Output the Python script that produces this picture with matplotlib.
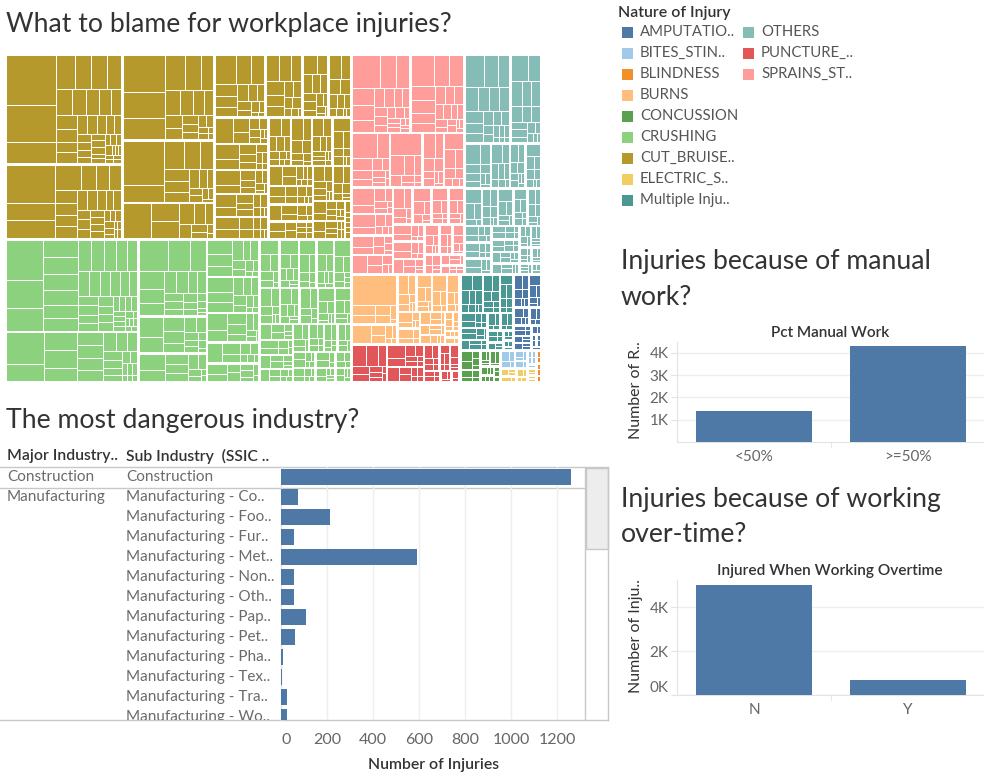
import matplotlib
matplotlib.use("Agg")
import matplotlib.pyplot as plt
from matplotlib.patches import Rectangle
from matplotlib.collections import PatchCollection
from matplotlib.ticker import FuncFormatter

plt.rcParams['font.family'] = ['Lato', 'DejaVu Sans']

W, H = 984, 784
BAR = "#4e79a7"
DARK = "#333333"
GREY = "#6b6b6b"

# ---------------- data ----------------
categories = ["AMPUTATIO..", "BITES_STIN..", "BLINDNESS", "BURNS", "CONCUSSION",
              "CRUSHING", "CUT_BRUISE..", "ELECTRIC_S..", "Multiple Inju..",
              "OTHERS", "PUNCTURE_..", "SPRAINS_ST.."]
cat_colors = ["#4e79a7", "#a0cbe8", "#f28e2b", "#ffbe7d", "#59a14f", "#8cd17d",
              "#b6992d", "#f1ce63", "#499894", "#86bcb6", "#e15759", "#ff9d9a"]

amputation_blocks = [[4, 3, 3, 2, 2, 1, 1], [4, 3, 2, 2, 1, 1], [3, 2, 2, 1, 1], [3, 2, 1, 1],
                     [2, 2, 1, 1], [2, 1, 1], [2, 1, 1], [2, 1], [1, 1], [1, 1], [1]]
bites_blocks = [[3, 2, 2, 1], [2, 1, 1], [2, 1], [1, 1], [1, 1], [1]]
blindness_blocks = [[1, 1], [1, 1], [1]]
burns_blocks = [[44, 8, 6, 5, 4, 3, 1], [12, 5, 4, 3, 2, 1, 1], [7, 5, 4, 3, 2, 1, 1],
                [6, 4, 3, 2, 2, 1], [8, 4, 3, 2, 1], [7, 3, 2, 2, 1], [5, 3, 2, 1, 1],
                [5, 3, 2, 1], [4, 3, 2, 1], [3, 2, 2, 1], [3, 2, 1, 1], [2, 2, 1],
                [2, 1, 1], [1, 1, 1], [2, 1]]
concussion_blocks = [[4, 3, 2, 2, 1], [3, 2, 2, 1], [2, 1, 1, 1], [2, 2, 1], [2, 1, 1],
                     [1, 1, 1], [1, 1], [1]]
crushing_blocks = [
    [48, 34, 27, 19, 19, 18, 16, 15, 14, 13, 12, 12, 11, 10, 9, 9, 8, 8, 7, 7, 6, 6, 5, 5, 5,
     4, 4, 4, 3, 3, 3, 3, 2, 2, 2, 2, 2, 1, 1, 1, 1, 1, 1],
    [40, 21, 19, 19, 14, 11, 11, 10, 9, 8, 7, 6, 6, 5, 4, 4, 3, 3, 2, 2, 2, 1, 1, 1],
    [30, 22, 16, 14, 12, 10, 9, 8, 7, 6, 5, 5, 4, 4, 3, 3, 2, 2, 1, 1],
    [16, 12, 10, 8, 7, 6, 5, 4, 3, 3, 2, 2, 1],
    [14, 10, 8, 7, 6, 5, 4, 3, 2, 1, 1],
    [13, 9, 8, 6, 5, 4, 4, 3, 3, 2, 1, 1],
    [12, 10, 8, 7, 5, 5, 4, 3, 3, 2, 1, 1],
    [11, 8, 7, 6, 5, 4, 3, 2, 2, 1],
    [10, 7, 5, 4, 3, 2, 2, 1], [9, 6, 5, 4, 3, 2, 1],
    [7, 5, 4, 4, 3, 3, 2, 2, 1], [9, 5, 4, 3, 3, 2, 2, 1, 1],
    [8, 6, 4, 3, 2, 2, 1], [8, 5, 4, 3, 2, 2, 1, 1], [9, 5, 4, 3, 2, 1, 1, 1],
    [7, 5, 4, 3, 2, 1, 1], [6, 4, 3, 3, 2, 2, 1, 1], [7, 5, 3, 3, 2, 1],
    [7, 4, 3, 2, 1, 1, 1], [6, 4, 3, 2, 2, 1], [6, 4, 3, 2, 1, 1], [5, 4, 3, 2, 1, 1],
    [5, 3, 3, 2, 1, 1], [4, 3, 2, 2, 1, 1, 1], [5, 3, 3, 2, 1], [4, 3, 2, 2, 1, 1],
    [4, 3, 2, 1, 1, 1], [4, 3, 2, 2, 1], [3, 3, 2, 1, 1, 1], [3, 2, 2, 1, 1, 1],
    [4, 3, 2, 1], [3, 2, 1, 1, 1, 1], [3, 2, 2, 1], [2, 2, 1, 1, 1]]
cut_bruise_blocks = [
    [80, 60, 34, 20, 18, 17, 15, 14, 12, 11, 10, 9, 9, 8, 7, 7, 6, 6, 5, 5, 4, 4, 4, 3, 3, 3,
     3, 3, 2, 2, 2, 2, 2, 2, 1, 1, 1, 1, 1, 1, 1],
    [60, 28, 27, 22, 12, 11, 10, 9, 9, 8, 8, 7, 6, 6, 5, 5, 4, 4, 4, 3, 3, 3, 3, 2, 2, 2, 2, 2,
     1, 1, 1, 1, 1],
    [52, 35, 30, 22, 18, 14, 12, 10, 9, 8, 7, 6, 5, 4, 4, 3, 3, 2, 2, 1, 1],
    [60, 22, 18, 15, 12, 10, 9, 8, 6, 5, 4, 3, 3, 2, 2, 1],
    [33, 17, 15, 10, 8, 6, 5, 4, 3, 2, 1],
    [20, 14, 13, 9, 8, 7, 6, 5, 4, 4, 3, 3, 2, 1, 1],
    [12, 10, 9, 8, 7, 6, 5, 4, 3, 3, 2, 2, 1],
    [9, 7, 6, 5, 5, 4, 4, 3, 3, 2, 2, 1, 1],
    [10, 7, 6, 5, 4, 3, 3, 2, 2, 1, 1], [15, 8, 6, 4, 3, 3, 2, 1, 1, 1],
    [12, 8, 6, 5, 4, 3, 2, 2, 1, 1], [12, 7, 5, 4, 3, 3, 2, 2, 1, 1],
    [9, 6, 5, 4, 4, 3, 3, 2, 1, 1], [10, 7, 6, 4, 3, 3, 2, 1, 1],
    [8, 5, 4, 4, 3, 3, 2, 2, 1, 1, 1], [9, 6, 5, 4, 3, 2, 2, 1],
    [7, 5, 4, 3, 3, 2, 2, 2, 1, 1, 1], [8, 6, 4, 3, 3, 2, 1, 1],
    [9, 5, 4, 3, 2, 2, 1, 1, 1], [6, 4, 4, 3, 3, 2, 2, 1, 1], [7, 5, 4, 3, 2, 2, 1],
    [5, 4, 3, 3, 2, 2, 2, 1, 1, 1], [6, 4, 3, 3, 2, 2, 1, 1], [6, 4, 3, 3, 2, 1, 1],
    [5, 3, 3, 2, 2, 2, 1, 1, 1], [4, 3, 3, 2, 2, 1, 1, 1, 1], [2, 1, 1, 1, 1, 1]]
electric_blocks = [[2, 1, 1], [2, 1], [2, 1], [1, 1], [1, 1], [1], [1]]
multiple_blocks = [[6, 5, 4, 3, 3, 2, 2, 1, 1], [5, 4, 3, 3, 2, 2, 1, 1], [4, 3, 3, 2, 2, 1, 1],
                   [4, 3, 2, 2, 1, 1], [3, 3, 2, 1, 1], [3, 2, 2, 1, 1], [3, 2, 1, 1],
                   [3, 2, 1, 1], [2, 2, 1, 1], [2, 1, 1], [1, 1, 1], [1, 1], [1]]
others_blocks = [
    [20, 14, 12, 10, 9, 8, 8, 7, 6, 5, 5, 4, 4, 3, 3, 2, 2, 2, 1, 1, 1],
    [15, 11, 9, 8, 7, 6, 5, 5, 4, 4, 3, 3, 2, 2, 1, 1],
    [10, 7, 5, 4, 3, 3, 2, 2, 1], [7, 5, 4, 3, 3, 2, 2, 1], [5, 4, 3, 3, 2, 2, 1, 1, 1],
    [6, 4, 3, 3, 2, 2, 1, 1], [8, 5, 4, 2, 1], [5, 4, 3, 3, 2, 1, 1], [6, 4, 3, 2, 2, 1],
    [5, 3, 3, 2, 2, 1, 1], [4, 3, 3, 2, 2, 1, 1], [4, 3, 2, 2, 2, 1], [4, 3, 2, 2, 1, 1],
    [5, 3, 2, 2, 1], [3, 3, 2, 2, 1, 1], [3, 2, 2, 2, 1, 1], [3, 2, 2, 1, 1, 1],
    [3, 2, 2, 1, 1], [2, 2, 2, 1, 1], [2, 2, 1, 1, 1], [2, 1, 1, 1, 1], [2, 1, 1, 1],
    [1, 1, 1, 1], [1, 1, 1]]
puncture_blocks = [[10, 8, 6, 5, 4, 3, 2, 2, 1, 1], [8, 5, 4, 3, 2, 2, 1, 1],
                   [6, 3, 3, 2, 2, 1, 1], [4, 3, 2, 2, 1, 1], [3, 2, 2, 1, 1],
                   [4, 2, 1, 1], [2, 2, 1, 1], [2, 1, 1], [2, 1]]
sprains_blocks = [
    [30, 17, 14, 12, 11, 8, 7, 6, 5, 5, 4, 4, 3, 3, 3, 2, 2, 2, 2, 1, 1, 1, 1],
    [24, 16, 14, 11, 10, 8, 7, 6, 5, 5, 4, 4, 3, 3, 3, 2, 2, 2, 1, 1, 1],
    [20, 10, 8, 6, 5, 4, 3, 3, 2, 2, 1, 1], [22, 9, 7, 5, 4, 3, 2, 2, 1],
    [10, 7, 5, 4, 3, 3, 2, 2, 1], [10, 7, 5, 4, 3, 2, 2, 1], [13, 6, 5, 3, 3, 2, 1, 1],
    [10, 6, 4, 3, 2, 2, 1], [8, 5, 4, 3, 2, 2, 1], [9, 5, 4, 3, 2, 1],
    [8, 5, 3, 3, 2, 1], [8, 5, 4, 3, 2, 1], [7, 4, 3, 2, 2, 1, 1], [6, 4, 3, 2, 2, 1],
    [6, 4, 3, 2, 1, 1], [6, 4, 3, 2, 1, 1], [5, 3, 3, 2, 1, 1], [5, 3, 2, 2, 1, 1],
    [4, 3, 2, 2, 1], [4, 3, 2, 1, 1], [3, 3, 2, 1, 1], [3, 2, 2, 1], [2, 1, 1, 1, 1]]

cat_blocks = [amputation_blocks, bites_blocks, blindness_blocks, burns_blocks,
              concussion_blocks, crushing_blocks, cut_bruise_blocks, electric_blocks,
              multiple_blocks, others_blocks, puncture_blocks, sprains_blocks]

major_industries = ["Construction", "Manufacturing"]
major_rows = [0, 1]
sub_industries = ["Construction", "Manufacturing - Co..", "Manufacturing - Foo..",
                  "Manufacturing - Fur..", "Manufacturing - Met..", "Manufacturing - Non..",
                  "Manufacturing - Oth..", "Manufacturing - Pap..", "Manufacturing - Pet..",
                  "Manufacturing - Pha..", "Manufacturing - Tex..", "Manufacturing - Tra..",
                  "Manufacturing - Wo.."]
sub_injuries = [1260, 72, 215, 55, 590, 58, 58, 108, 62, 8, 4, 27, 27]
injury_ticks = [0, 200, 400, 600, 800, 1000, 1200]

manual_labels = ["<50%", ">=50%"]
manual_counts = [1410, 4280]
overtime_labels = ["N", "Y"]
overtime_counts = [5000, 680]


# ---------------- helpers ----------------
fig = plt.figure(figsize=(W / 100, H / 100), dpi=100)


def px_axes(x0, y0, x1, y1):
    return fig.add_axes([x0 / W, 1 - y1 / H, (x1 - x0) / W, (y1 - y0) / H])


def worst(row, side):
    s = sum(row)
    t = s / side
    r = 0
    for a in row:
        l = a / t
        r = max(r, t / l, l / t)
    return r


def squarify(vals, x, y, w, h, thr=3.1):
    total = float(sum(vals))
    areas = [v * w * h / total for v in vals]
    rects = []
    i = 0
    while i < len(areas):
        if w <= 1e-9 or h <= 1e-9:
            rects.extend([(x, y, 0, 0)] * (len(areas) - i))
            break
        side = min(w, h)
        row = [areas[i]]
        cur = worst(row, side)
        j = i + 1
        while j < len(areas):
            new = worst(row + [areas[j]], side)
            if new <= cur or new <= thr:
                row.append(areas[j])
                cur = new
                j += 1
            else:
                break
        s = sum(row)
        if w >= h:
            cw = s / h
            yy = y
            for a in row:
                rh = a / cw
                rects.append((x, yy, cw, rh))
                yy += rh
            x += cw
            w -= cw
        else:
            rh = s / w
            xx = x
            for a in row:
                cw = a / rh
                rects.append((xx, y, cw, rh))
                xx += cw
            y += rh
            h -= rh
        i = j
    return rects


def inset(r, d):
    x, y, w, h = r
    return (x + d, y + d, max(w - 2 * d, 0), max(h - 2 * d, 0))


# ---------------- background / layout layer ----------------
bg = fig.add_axes([0, 0, 1, 1])
bg.set_xlim(0, W)
bg.set_ylim(H, 0)
bg.axis("off")

title_kw = dict(fontsize=19.2, color=DARK, va="center", ha="left")
bg.text(6, 24, "What to blame for workplace injuries?", **title_kw)
bg.text(6, 420, "The most dangerous industry?", **title_kw)
bg.text(621, 262, "Injuries because of manual", **title_kw)
bg.text(621, 297, "work?", **title_kw)
bg.text(621, 499, "Injuries because of working", **title_kw)
bg.text(621, 535, "over-time?", **title_kw)

# legend
bg.text(618, 13, "Nature of Injury", fontsize=11.4, fontweight="semibold", color=DARK,
        va="center", ha="left")
for k, (name, col) in enumerate(zip(categories, cat_colors)):
    colx = 0 if k < 9 else 1
    row = k if k < 9 else k - 9
    sx = 622 + colx * 121
    cy = 32 + row * 21
    bg.add_patch(Rectangle((sx, cy - 5.5), 11, 11, color=col, lw=0))
    bg.text(sx + 18, cy, name, fontsize=10.7, color="#555555", va="center", ha="left")

# table frame for industry chart
line_c = "#c8c8c8"
bg.plot([0, 608], [467, 467], color=line_c, lw=1)
bg.plot([0, 608], [720, 720], color=line_c, lw=1)
bg.plot([0, 585], [487.5, 487.5], color=line_c, lw=1)
bg.plot([585, 585], [467, 720], color=line_c, lw=1)
bg.plot([608, 608], [467, 720], color=line_c, lw=1)
bg.add_patch(Rectangle((586, 467.5), 21.5, 81, facecolor="#ededed", edgecolor=line_c, lw=1))
hdr_kw = dict(fontsize=11.3, fontweight="semibold", color=DARK, va="center", ha="left")
bg.text(7, 456, "Major Industry..", **hdr_kw)
bg.text(126, 456, "Sub Industry  (SSIC ..", **hdr_kw)
bg.text(433, 765, "Number of Injuries", fontsize=11.3, fontweight="semibold", color=DARK,
        va="center", ha="center")

# small chart titles / axis titles
bg.text(830, 333, "Pct Manual Work", fontsize=11, fontweight="semibold", color=DARK,
        va="center", ha="center")
bg.text(636, 390, "Number of R..", fontsize=11.5, color=DARK, rotation=90,
        va="center", ha="center")
bg.text(830, 571, "Injured When Working Overtime", fontsize=11.1, fontweight="semibold",
        color=DARK, va="center", ha="center")
bg.text(636, 636, "Number of Inju..", fontsize=11.5, color=DARK, rotation=90,
        va="center", ha="center")

# ---------------- treemap ----------------
pad_c, pad_b, pad_l = 0.5, 0.75, 0.5
outer = pad_c + pad_b + pad_l
tx0, ty0, tx1, ty1 = 7 - outer, 56 - outer, 540 + outer, 381 + outer
axt = px_axes(tx0, ty0, tx1, ty1)
tw, th = tx1 - tx0, ty1 - ty0
axt.set_xlim(0, tw)
axt.set_ylim(th, 0)
axt.axis("off")
axt.patch.set_alpha(0)

cat_vals = [sum(sum(b) for b in blocks) for blocks in cat_blocks]
order = sorted(range(len(categories)), key=lambda i: -cat_vals[i])
crects = squarify([cat_vals[i] for i in order], 0, 0, tw, th)
patches, pcolors = [], []
for idx, cr in zip(order, crects):
    cr = inset(cr, pad_c)
    blocks = sorted(cat_blocks[idx], key=sum, reverse=True)
    brects = squarify([sum(b) for b in blocks], *cr)
    for b, br in zip(blocks, brects):
        br = inset(br, pad_b)
        leaves = sorted(b, reverse=True)
        for lr in squarify(leaves, *br):
            x, y, w, h = inset(lr, pad_l)
            if w > 0 and h > 0:
                patches.append(Rectangle((x, y), w, h))
                pcolors.append(cat_colors[idx])
axt.add_collection(PatchCollection(patches, facecolors=pcolors, edgecolors="none", lw=0))

# ---------------- industry bar chart ----------------
axb = px_axes(281, 467, 585, 720)
rows = list(range(len(sub_industries)))
axb.barh(rows, sub_injuries, height=0.78, color=BAR, zorder=3)
axb.set_ylim(12.15, -0.5)
axb.set_xlim(0, 1322)
axb.set_xticks(injury_ticks)
axb.set_yticks([])
axb.xaxis.grid(True, color="#eeeeee", lw=1, zorder=0)
axb.set_axisbelow(True)
for s in ["top", "right", "bottom"]:
    axb.spines[s].set_visible(False)
axb.spines["left"].set_color("#e0e0e0")
axb.tick_params(axis="x", length=0, pad=9, labelsize=11.5, labelcolor="#666666")
axb.get_xticklabels()[0].set_ha("left")
axb.patch.set_alpha(0)

axl = px_axes(0, 467, 281, 720)
axl.set_xlim(0, 281)
axl.set_ylim(12.15, -0.5)
axl.axis("off")
axl.patch.set_alpha(0)
for r, name in zip(major_rows, major_industries):
    axl.text(7, r, name, fontsize=11, color=GREY, va="center", ha="left", clip_on=True)
for r, name in zip(rows, sub_industries):
    axl.text(126, r, name, fontsize=11, color=GREY, va="center", ha="left", clip_on=True)

kfmt = FuncFormatter(lambda v, p: f"{int(round(v / 1000))}K")


def small_bar(ax, labels, counts, ymax, ticks):
    ax.bar(range(len(labels)), counts, width=0.75, color=BAR, zorder=3)
    ax.set_xlim(-0.5, len(labels) - 0.5)
    ax.set_ylim(0, ymax)
    ax.set_yticks(ticks)
    ax.yaxis.set_major_formatter(kfmt)
    ax.set_xticks(range(len(labels)))
    ax.set_xticklabels(labels)
    ax.set_xticks([0.5], minor=True)
    ax.yaxis.grid(True, color="#eeeeee", lw=1)
    ax.set_axisbelow(True)
    for s in ["top", "right"]:
        ax.spines[s].set_visible(False)
    for s in ["left", "bottom"]:
        ax.spines[s].set_color("#e3e3e3")
    ax.tick_params(axis="x", which="major", length=0, pad=6, labelsize=11, labelcolor="#666666")
    ax.tick_params(axis="x", which="minor", length=4, color="#e3e3e3")
    ax.tick_params(axis="y", length=4, color="#e3e3e3", pad=2, labelsize=11, labelcolor="#666666")
    ax.patch.set_alpha(0)


axm = px_axes(677, 342, 985, 442)
small_bar(axm, manual_labels, manual_counts, 4480, [1000, 2000, 3000, 4000])

axo = px_axes(677, 580, 985, 695)
small_bar(axo, overtime_labels, overtime_counts, 5230, [0, 2000, 4000])
labs = axo.set_yticklabels(["0K", "2K", "4K"])
labs[0].set_va("bottom")

fig.savefig("out.png", dpi=100, facecolor="white")
